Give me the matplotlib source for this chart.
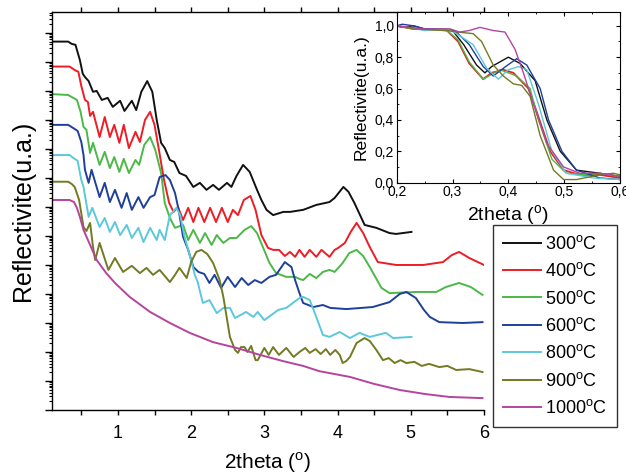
import numpy as np
import matplotlib
matplotlib.use("Agg")
from matplotlib import pyplot as plt
from matplotlib.ticker import FixedLocator, LogLocator, NullFormatter, FuncFormatter, MultipleLocator

plt.rcParams['font.family'] = ['Liberation Sans', 'DejaVu Sans']
plt.rcParams['mathtext.fontset'] = 'custom'
plt.rcParams['mathtext.rm'] = 'Liberation Sans'

temps = ['300', '400', '500', '600', '800', '900', '1000']
colors = ['#111111', '#ee1c24', '#4cb848', '#1f3f99', '#5cc8dc', '#727a22', '#b4449e']

# main plot: 2theta (deg) and log10 of the (offset) reflectivity
x300 = [0.10, 0.32, 0.37, 0.42, 0.48, 0.52, 0.55, 0.60, 0.66, 0.71, 0.78, 0.86, 0.93, 1.03, 1.09,
        1.19, 1.25, 1.32, 1.40, 1.47, 1.53, 1.59, 1.64, 1.71, 1.77, 1.84, 1.93, 2.03, 2.12, 2.21,
        2.30, 2.38, 2.49, 2.55, 2.62, 2.71, 2.80, 2.90, 2.96, 3.03, 3.12, 3.26, 3.35, 3.53, 3.71,
        3.89, 3.96, 4.08, 4.15, 4.23, 4.37, 4.53, 4.71, 4.80, 5.01]
y300 = [12.70, 12.70, 12.62, 12.59, 12.07, 11.59, 11.48, 11.34, 10.97, 11.00, 10.69, 10.76, 10.45, 10.66, 10.31,
        10.66, 10.34, 10.97, 11.34, 10.97, 10.0, 9.21, 9.03, 8.62, 8.55, 8.17, 8.07, 7.69, 7.83, 7.59,
        7.76, 7.59, 7.83, 7.69, 8.07, 8.45, 8.21, 7.59, 7.24, 6.90, 6.72, 6.83, 6.83, 6.90, 7.07,
        7.17, 7.31, 7.69, 7.52, 7.14, 6.38, 6.28, 6.10, 6.07, 6.14]

x400 = [0.10, 0.34, 0.41, 0.46, 0.50, 0.55, 0.59, 0.62, 0.66, 0.75, 0.82, 0.89, 0.95, 1.02, 1.08,
        1.15, 1.24, 1.30, 1.37, 1.44, 1.50, 1.56, 1.63, 1.70, 1.76, 1.82, 1.89, 1.96, 2.03, 2.10,
        2.18, 2.26, 2.34, 2.42, 2.50, 2.57, 2.64, 2.72, 2.81, 2.88, 2.96, 3.05, 3.12, 3.20, 3.28,
        3.35, 3.42, 3.48, 3.55, 3.62, 3.71, 3.78, 3.89, 3.96, 4.01, 4.10, 4.18, 4.26, 4.35, 4.44,
        4.55, 4.80, 5.17, 5.44, 5.56, 5.66, 5.80, 6.0]
y400 = [11.84, 11.84, 11.72, 11.66, 11.17, 10.69, 10.62, 10.14, 10.28, 9.41, 10.10, 9.41, 9.83, 9.21, 9.83,
        9.03, 9.59, 9.24, 10.0, 10.28, 9.83, 8.97, 7.93, 7.14, 6.83, 7.0, 6.55, 6.97, 6.48, 6.97,
        6.48, 6.97, 6.48, 6.97, 6.48, 6.90, 6.72, 7.24, 7.38, 6.90, 6.03, 5.59, 5.52, 5.52, 5.31,
        5.45, 5.28, 5.52, 5.28, 5.52, 5.28, 5.52, 5.28, 5.52, 5.59, 5.76, 6.14, 6.45, 6.10, 5.62,
        5.10, 5.0, 5.0, 5.10, 5.34, 5.45, 5.24, 5.0]

x500 = [0.10, 0.32, 0.39, 0.44, 0.49, 0.53, 0.57, 0.62, 0.66, 0.75, 0.82, 0.89, 0.95, 1.02, 1.08,
        1.15, 1.24, 1.29, 1.36, 1.44, 1.51, 1.59, 1.64, 1.71, 1.78, 1.89, 1.96, 2.03, 2.12, 2.19,
        2.28, 2.35, 2.44, 2.53, 2.62, 2.73, 2.82, 2.90, 2.98, 3.07, 3.16, 3.30, 3.42, 3.48, 3.53,
        3.62, 3.71, 3.80, 3.89, 3.96, 4.07, 4.16, 4.26, 4.35, 4.44, 4.60, 4.71, 5.07, 5.35, 5.48,
        5.66, 5.82, 5.98]
y500 = [10.89, 10.86, 10.76, 10.69, 10.28, 9.76, 9.66, 8.86, 9.21, 8.45, 8.90, 8.34, 8.72, 8.21, 8.66,
        8.17, 8.62, 8.45, 9.14, 9.41, 8.97, 8.17, 7.14, 6.62, 6.28, 6.38, 5.86, 6.21, 5.76, 6.10,
        5.69, 6.03, 5.76, 5.93, 5.93, 6.21, 6.34, 6.10, 5.62, 5.07, 4.72, 4.59, 4.59, 4.52, 4.48,
        4.69, 4.55, 4.76, 4.83, 4.76, 5.07, 5.41, 5.52, 5.31, 4.93, 4.21, 4.03, 4.07, 4.07, 4.24,
        4.38, 4.24, 3.97]

x600 = [0.10, 0.32, 0.39, 0.45, 0.50, 0.53, 0.55, 0.60, 0.64, 0.75, 0.82, 0.89, 0.96, 1.05, 1.12,
        1.19, 1.28, 1.35, 1.44, 1.50, 1.57, 1.65, 1.71, 1.78, 1.83, 1.89, 1.96, 2.03, 2.10, 2.18,
        2.25, 2.32, 2.41, 2.50, 2.60, 2.69, 2.78, 2.87, 2.96, 3.07, 3.16, 3.28, 3.37, 3.42, 3.48,
        3.53, 3.67, 3.80, 3.90, 4.12, 4.48, 4.71, 4.85, 4.94, 5.07, 5.18, 5.26, 5.39, 5.71, 5.98]
y600 = [9.83, 9.83, 9.72, 9.62, 9.24, 8.79, 8.28, 7.83, 8.28, 7.34, 7.83, 7.17, 7.59, 6.97, 7.48,
        6.90, 7.34, 6.97, 7.34, 7.41, 8.03, 8.10, 7.93, 7.48, 6.90, 5.97, 5.52, 4.93, 4.76, 4.69,
        4.38, 4.66, 4.21, 4.59, 4.24, 4.55, 4.31, 4.48, 4.38, 4.59, 4.66, 5.10, 4.93, 4.48, 4.03,
        3.69, 3.55, 3.62, 3.52, 3.48, 3.55, 3.72, 4.00, 4.07, 3.86, 3.45, 3.21, 3.03, 3.0, 3.03]

x800 = [0.10, 0.34, 0.39, 0.45, 0.50, 0.53, 0.60, 0.65, 0.75, 0.82, 0.89, 0.96, 1.03, 1.12, 1.19,
        1.28, 1.35, 1.44, 1.53, 1.57, 1.64, 1.71, 1.80, 1.85, 1.91, 2.00, 2.05, 2.09, 2.16, 2.25,
        2.35, 2.44, 2.53, 2.60, 2.75, 2.85, 2.91, 3.00, 3.19, 3.30, 3.39, 3.48, 3.53, 3.62, 3.69,
        3.80, 3.89, 4.03, 4.17, 4.30, 4.44, 4.66, 4.76, 5.01]
y800 = [8.79, 8.79, 8.69, 8.59, 7.93, 7.69, 6.66, 6.97, 6.31, 6.62, 6.14, 6.48, 6.03, 6.38, 5.93,
        6.28, 5.79, 6.28, 5.86, 6.21, 5.86, 6.72, 6.97, 6.72, 5.97, 5.17, 4.66, 4.41, 3.69, 3.79,
        3.34, 3.52, 3.52, 3.17, 3.38, 3.21, 3.38, 3.10, 3.45, 3.52, 3.69, 3.86, 3.90, 3.79, 3.34,
        2.59, 2.52, 2.69, 2.48, 2.66, 2.52, 2.66, 2.48, 2.52]

x900 = [0.10, 0.32, 0.37, 0.41, 0.47, 0.53, 0.57, 0.62, 0.66, 0.69, 0.75, 0.87, 0.96, 1.07, 1.19,
        1.30, 1.39, 1.48, 1.57, 1.71, 1.78, 1.84, 1.94, 2.00, 2.07, 2.14, 2.22, 2.30, 2.39, 2.44,
        2.53, 2.60, 2.64, 2.68, 2.73, 2.77, 2.82, 2.88, 2.91, 3.00, 3.06, 3.12, 3.20, 3.30, 3.40,
        3.48, 3.56, 3.62, 3.70, 3.77, 3.84, 3.90, 3.97, 4.03, 4.07, 4.12, 4.17, 4.26, 4.37, 4.44,
        4.53, 4.62, 4.70, 4.78, 4.86, 4.94, 5.05, 5.15, 5.25, 5.39, 5.50, 5.62, 5.80, 5.98]
y900 = [7.87, 7.87, 7.79, 7.69, 7.24, 6.31, 6.17, 6.45, 5.62, 5.17, 5.76, 4.83, 5.24, 4.76, 4.97,
        4.72, 4.90, 4.66, 4.83, 4.41, 4.66, 4.90, 4.55, 5.10, 5.45, 5.52, 5.38, 5.07, 4.48, 3.90,
        2.52, 2.07, 1.97, 2.17, 2.17, 2.0, 2.21, 1.72, 1.72, 2.14, 1.90, 2.17, 1.90, 2.14, 1.83,
        2.0, 2.14, 1.97, 2.10, 1.93, 2.10, 1.90, 2.07, 1.90, 1.62, 1.69, 1.83, 2.31, 2.48, 2.38,
        2.07, 1.72, 1.79, 1.62, 1.72, 1.62, 1.66, 1.52, 1.59, 1.48, 1.52, 1.38, 1.41, 1.31]

x1000 = [0.10, 0.34, 0.40, 0.44, 0.48, 0.53, 0.62, 0.71, 0.84, 0.96, 1.16, 1.44, 1.71, 1.98, 2.30,
         2.62, 2.94, 3.25, 3.53, 3.75, 4.17, 4.50, 4.85, 5.20, 5.53, 5.98]
y1000 = [7.24, 7.24, 7.17, 6.97, 6.66, 6.21, 5.69, 5.17, 4.72, 4.38, 3.90, 3.38, 3.0, 2.66, 2.34,
         2.14, 1.90, 1.69, 1.52, 1.34, 1.14, 0.90, 0.69, 0.55, 0.45, 0.41]

# inset: normalised reflectivity near the critical angle
ix300 = [0.2, 0.21, 0.23, 0.25, 0.30, 0.32, 0.343, 0.358, 0.37, 0.40, 0.421, 0.448, 0.469, 0.493, 0.522, 0.564, 0.60]
iy300 = [1.0, 0.99, 1.0, 0.98, 0.97, 0.88, 0.75, 0.70, 0.74, 0.80, 0.76, 0.65, 0.40, 0.20, 0.08, 0.06, 0.04]
ix400 = [0.2, 0.23, 0.25, 0.29, 0.31, 0.33, 0.355, 0.37, 0.391, 0.409, 0.436, 0.451, 0.475, 0.499, 0.528, 0.564, 0.60]
iy400 = [1.0, 0.98, 0.98, 0.97, 0.90, 0.76, 0.66, 0.70, 0.72, 0.70, 0.60, 0.45, 0.20, 0.08, 0.05, 0.05, 0.03]
ix500 = [0.2, 0.23, 0.29, 0.31, 0.33, 0.355, 0.385, 0.415, 0.439, 0.454, 0.478, 0.504, 0.54, 0.564, 0.60]
iy500 = [1.0, 0.98, 0.97, 0.91, 0.77, 0.66, 0.72, 0.68, 0.60, 0.40, 0.15, 0.06, 0.05, 0.06, 0.04]
ix600 = [0.2, 0.21, 0.23, 0.25, 0.29, 0.307, 0.33, 0.355, 0.373, 0.395, 0.415, 0.433, 0.457, 0.472, 0.496, 0.522, 0.564, 0.60]
iy600 = [1.0, 1.01, 1.0, 0.98, 0.98, 0.96, 0.88, 0.74, 0.68, 0.74, 0.79, 0.75, 0.60, 0.40, 0.20, 0.08, 0.03, 0.02]
ix800 = [0.2, 0.22, 0.25, 0.29, 0.307, 0.337, 0.361, 0.382, 0.40, 0.418, 0.433, 0.454, 0.478, 0.504, 0.552, 0.60]
iy800 = [1.0, 0.99, 0.97, 0.98, 0.95, 0.88, 0.73, 0.66, 0.72, 0.74, 0.72, 0.50, 0.20, 0.06, 0.03, 0.02]
ix900 = [0.2, 0.23, 0.29, 0.31, 0.337, 0.352, 0.373, 0.391, 0.409, 0.424, 0.439, 0.457, 0.481, 0.499, 0.522, 0.564, 0.588, 0.60]
iy900 = [1.0, 0.98, 0.97, 0.96, 0.95, 0.90, 0.75, 0.68, 0.63, 0.62, 0.55, 0.30, 0.08, 0.02, 0.02, 0.05, 0.06, 0.05]
ix1000 = [0.2, 0.25, 0.296, 0.313, 0.33, 0.349, 0.373, 0.394, 0.412, 0.427, 0.445, 0.469, 0.499, 0.528, 0.564, 0.60]
iy1000 = [1.0, 0.98, 0.98, 0.96, 0.97, 0.99, 0.97, 0.96, 0.85, 0.70, 0.50, 0.25, 0.10, 0.06, 0.06, 0.04]

main_x = [x300, x400, x500, x600, x800, x900, x1000]
main_y = [y300, y400, y500, y600, y800, y900, y1000]
ins_x = [ix300, ix400, ix500, ix600, ix800, ix900, ix1000]
ins_y = [iy300, iy400, iy500, iy600, iy800, iy900, iy1000]

fig = plt.figure(figsize=(6.26, 4.75), dpi=100)

# ----- main axes
ax = fig.add_axes([0.0831, 0.1368, 0.690, 0.8379])
lines = []
for xs, ys, c, t in zip(main_x, main_y, colors, temps):
    ln, = ax.plot(xs, 10 ** np.array(ys), color=c, lw=1.4, label=t + r'$^{\rm o}$C')
    lines.append(ln)
ax.set_yscale('log')
ax.set_xlim(0.1, 6.0)
ax.set_ylim(1, 10 ** 13.72)
ax.yaxis.set_major_locator(LogLocator(base=10, numticks=30))
ax.yaxis.set_minor_locator(LogLocator(base=10, subs=np.arange(2, 10), numticks=30))
ax.yaxis.set_major_formatter(NullFormatter())
ax.yaxis.set_minor_formatter(NullFormatter())
ax.xaxis.set_major_locator(FixedLocator(np.arange(0.5, 6.01, 0.5)))
ax.xaxis.set_major_formatter(FuncFormatter(lambda v, p: '%d' % v if abs(v - round(v)) < 1e-6 else ''))
ax.tick_params(axis='x', which='major', direction='out', length=3.5, width=1, labelsize=13, pad=7,
               top=True)
ax.tick_params(axis='y', which='major', direction='out', length=5, width=1)
ax.tick_params(axis='y', which='minor', direction='out', length=2.5, width=0.8)
ax.spines['right'].set_visible(False)
for s in ['left', 'bottom', 'top']:
    ax.spines[s].set_linewidth(1.0)
ax.set_xlabel(r'2theta ($^{\rm o}$)', fontsize=15, labelpad=6)
ax.set_ylabel('Reflectivite(u.a.)', fontsize=18, labelpad=4)

# ----- inset
axin = fig.add_axes([0.6337, 0.6154, 0.3567, 0.36])
axin.set_zorder(5)
for xs, ys, c in zip(ins_x, ins_y, colors):
    axin.plot(xs, ys, color=c, lw=1.0 if c != '#ee1c24' else 1.3)
axin.set_xlim(0.2, 0.6)
axin.set_ylim(0, 1.09)
axin.xaxis.set_major_locator(MultipleLocator(0.1))
axin.xaxis.set_minor_locator(MultipleLocator(0.05))
axin.yaxis.set_major_locator(MultipleLocator(0.2))
axin.yaxis.set_minor_locator(MultipleLocator(0.1))
comma = FuncFormatter(lambda v, p: ('%.1f' % v).replace('.', ','))
axin.xaxis.set_major_formatter(comma)
axin.yaxis.set_major_formatter(comma)
axin.tick_params(which='both', direction='in', top=True, right=True, labelsize=10, pad=2)
axin.tick_params(which='major', length=3)
axin.tick_params(which='minor', length=1.5)
axin.set_xlabel(r'2theta ($^{\rm o}$)', fontsize=14, labelpad=3)
axin.set_ylabel('Reflectivite(u.a.)', fontsize=12.5, labelpad=4)

# ----- legend
fig.legend(handles=lines, loc='upper left', bbox_to_anchor=(493 / 626, 1 - 225 / 475),
           frameon=True, fancybox=False, edgecolor='black', fontsize=13, handlelength=2.1,
           handletextpad=0.25, labelspacing=0.52, borderpad=0.55, borderaxespad=0)
fig.legends[0].get_frame().set_linewidth(1.0)

fig.savefig('out.png', dpi=100)
